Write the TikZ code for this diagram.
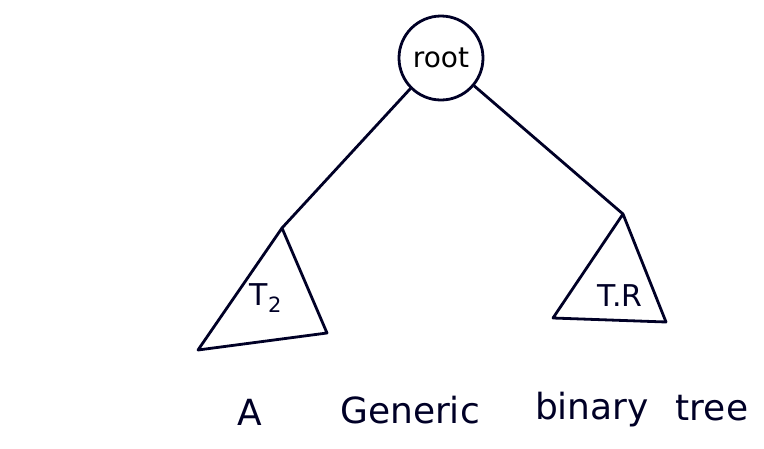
\documentclass[tikz,border=0pt]{standalone}
\usepackage{fontspec}
\setmainfont{DejaVu Sans}
\begin{document}
\begin{tikzpicture}[x=1pt,y=-1pt,
  pen/.style={draw=black!85!blue,line width=2.8pt,line join=round,line cap=round},
  lbl/.style={inner sep=0pt,font=\fontsize{30}{32}\selectfont,text=black!85!blue},
  captext/.style={inner sep=0pt,font=\fontsize{36}{40}\selectfont,text=black!85!blue}]
\useasboundingbox (0,0) rectangle (764,448);
\node[pen,circle,minimum size=84pt,inner sep=0pt,font=\fontsize{28}{30}\selectfont] (root) at (441,58) {root};
% left subtree
\coordinate (la) at (282,228);
\coordinate (lb) at (198,350);
\coordinate (lc) at (327,333);
\draw[pen] (root.225) -- (la);
\draw[pen] (la) -- (lb) -- (lc) -- cycle;
\node[lbl] (tl) at (266,298) {T\textsubscript{2}};
% right subtree
\coordinate (ra) at (623,214);
\coordinate (rb) at (553,318);
\coordinate (rc) at (666,322);
\draw[pen] (root.-40) -- (ra);
\draw[pen] (ra) -- (rb) -- (rc) -- cycle;
\node[lbl] (tr) at (620,296) {T.R};
% caption
\node[captext] (w1) at (250,412) {A};
\node[captext] (w2) at (410,410) {Generic};
\node[captext] (w3) at (592,410) {binary};
\node[captext] (w4) at (712,408) {tree};
\end{tikzpicture}
\end{document}
